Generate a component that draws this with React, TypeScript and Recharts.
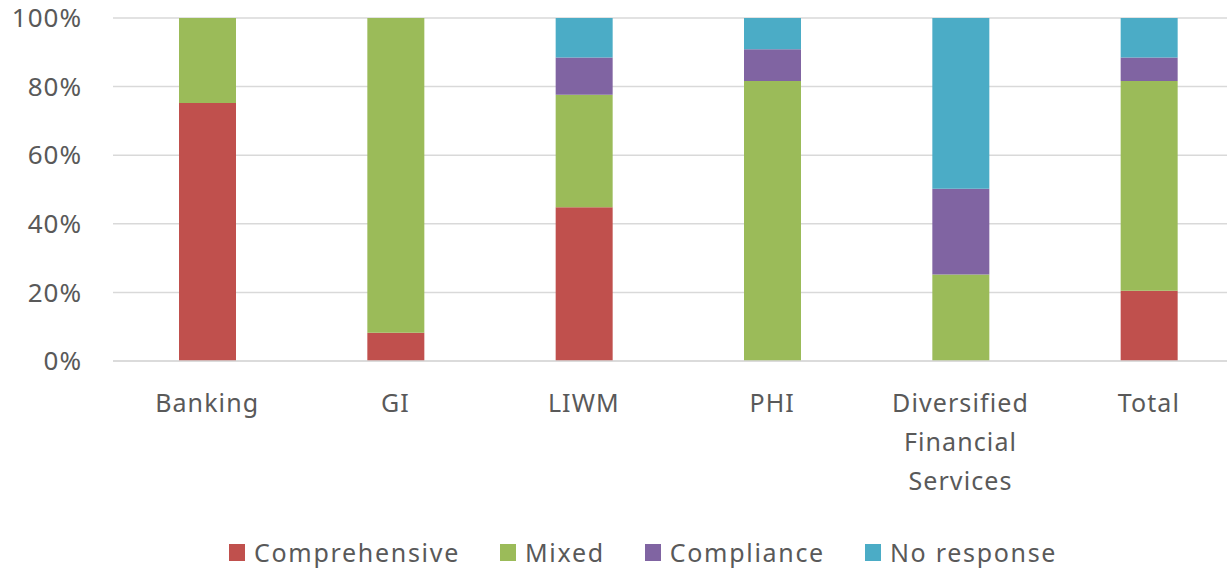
import { BarChart, Bar, XAxis, YAxis, CartesianGrid, Legend } from 'recharts';

// 업종별 응답 비율 (%)
const categories = ['Banking', 'GI', 'LIWM', 'PHI', 'Diversified Financial Services', 'Total'];
const comprehensive = [75.2, 8.2, 44.8, 0, 0, 20.5];
const mixed = [24.8, 91.8, 32.8, 81.6, 25.2, 61.1];
const compliance = [0, 0, 10.9, 9.3, 25, 6.9];
const noResponse = [0, 0, 11.5, 9.1, 49.8, 11.5];
const yTicks = [0, 20, 40, 60, 80, 100];

const series = [
  { key: 'comprehensive', name: 'Comprehensive', color: '#C0504D' },
  { key: 'mixed', name: 'Mixed', color: '#9BBB59' },
  { key: 'compliance', name: 'Compliance', color: '#8064A2' },
  { key: 'noResponse', name: 'No response', color: '#4BACC6' },
];

const data = categories.map((c, i) => ({
  category: c,
  comprehensive: comprehensive[i],
  mixed: mixed[i],
  compliance: compliance[i],
  noResponse: noResponse[i],
}));

const FONT = '"Noto Sans", sans-serif';
const TEXT = '#595959';

// 긴 라벨은 단어별로 줄바꿈
function CategoryTick({ x, y, payload }: any) {
  const label: string = payload.value;
  const lines = label.length > 12 ? label.split(' ') : [label];
  return (
    <text x={x} y={y} textAnchor="middle" fill={TEXT} fontFamily={FONT} fontSize={25} letterSpacing={1.1}>
      {lines.map((line, i) => (
        <tspan key={i} x={x} y={y + 43 + i * 39}>
          {line}
        </tspan>
      ))}
    </text>
  );
}

function LegendContent() {
  return (
    <div
      style={{
        display: 'flex',
        justifyContent: 'flex-start',
        paddingLeft: 229,
        height: 40,
        paddingTop: 8,
        boxSizing: 'border-box',
        alignItems: 'center',
        fontFamily: FONT,
        fontSize: 25,
        letterSpacing: 1.7,
        color: TEXT,
      }}
    >
      {series.map((s) => (
        <div key={s.key} style={{ display: 'flex', alignItems: 'center', marginRight: 40 }}>
          <span style={{ width: 16, height: 17, background: s.color, display: 'inline-block', marginRight: 9 }} />
          <span>{s.name}</span>
        </div>
      ))}
    </div>
  );
}

export default function App() {
  return (
    <div style={{ position: 'absolute', left: 0, top: 0, width: 1227, height: 568, overflow: 'hidden', background: '#fff' }}>
      <BarChart
        width={1243}
        height={568}
        data={data}
        margin={{ top: 18, right: 0, bottom: 0, left: 0 }}
        barSize={57}
      >
        <CartesianGrid vertical={false} stroke="#d9d9d9" strokeWidth={1.5} />
        <XAxis
          dataKey="category"
          axisLine={{ stroke: '#d9d9d9', strokeWidth: 1.5 }}
          tickLine={false}
          interval={0}
          height={167}
          tick={<CategoryTick />}
        />
        <YAxis
          domain={[0, 100]}
          ticks={yTicks}
          width={113}
          axisLine={false}
          tickLine={false}
          tickFormatter={(v: number) => `${v}%`}
          tick={{ fontSize: 26, fill: TEXT, fontFamily: FONT, letterSpacing: 1 }}
          tickMargin={25}
        />
        <Legend verticalAlign="bottom" content={<LegendContent />} />
        {series.map((s) => (
          <Bar
            key={s.key}
            dataKey={s.key}
            name={s.name}
            stackId="a"
            fill={s.color}
            isAnimationActive={false}
          />
        ))}
      </BarChart>
    </div>
  );
}
